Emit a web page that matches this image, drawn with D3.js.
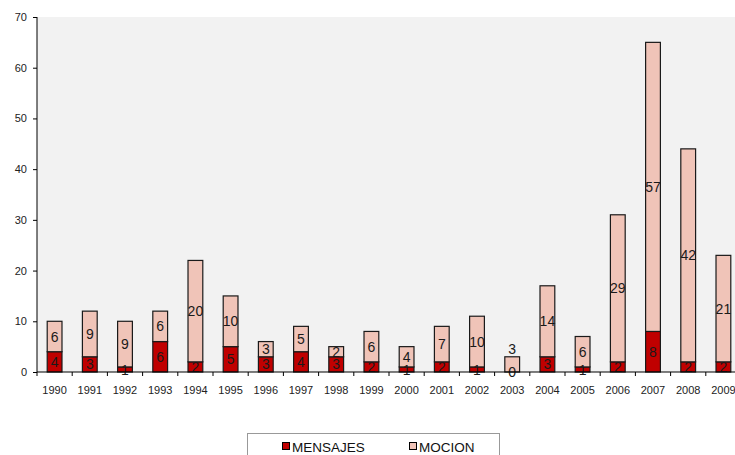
<!DOCTYPE html>
<html>
<head>
<meta charset="utf-8">
<script src="https://cdn.jsdelivr.net/npm/d3@7/dist/d3.min.js"></script>
<style>
  html, body { margin: 0; padding: 0; background: #ffffff; }
  svg { display: block; font-family: "Liberation Sans", Arial, sans-serif; }
</style>
</head>
<body>
<svg id="chart" width="735" height="455"></svg>
<script>
// Proyectos ingresados por año, según origen
const years = ["1990","1991","1992","1993","1994","1995","1996","1997","1998","1999",
               "2000","2001","2002","2003","2004","2005","2006","2007","2008","2009"];
const mensajes = [4, 3, 1, 6, 2, 5, 3, 4, 3, 2, 1, 2, 1, 0, 3, 1, 2, 8, 2, 2];
const mocion   = [6, 9, 9, 6, 20, 10, 3, 5, 2, 6, 4, 7, 10, 3, 14, 6, 29, 57, 42, 21];
const yTicks   = [0, 10, 20, 30, 40, 50, 60, 70];
const seriesNames = ["MENSAJES", "MOCION"];
const seriesColors = ["#c00000", "#f0c4b8"];

const svg = d3.select("#chart");
const margin = { left: 37, top: 17, bottom: 83 };
const plotW = 704;             // plot runs past the right edge of the window
const plotH = 455 - margin.top - margin.bottom;

const rows = years.map((y, i) => ({ year: y, MENSAJES: mensajes[i], MOCION: mocion[i] }));
const stacked = d3.stack().keys(seriesNames)(rows);

const x = d3.scaleBand().domain(years).range([margin.left, margin.left + plotW]);
const y = d3.scaleLinear().domain([0, 70]).range([margin.top + plotH, margin.top]);
const barW = x.bandwidth() * 0.42;

// plot area background
svg.append("rect")
  .attr("x", margin.left).attr("y", y(70))
  .attr("width", plotW).attr("height", y(0) - y(70))
  .attr("fill", "#f2f2f2");

// bars
const layers = svg.append("g").selectAll("g")
  .data(stacked).join("g")
  .attr("fill", (d, i) => seriesColors[i]);

layers.selectAll("rect")
  .data(d => d.map(s => ({ s, key: d.key })))
  .join("rect")
  .attr("x", d => x(d.s.data.year) + (x.bandwidth() - barW) / 2)
  .attr("y", d => y(d.s[1]))
  .attr("width", barW)
  .attr("height", d => y(d.s[0]) - y(d.s[1]))
  .attr("stroke", "#1a1a1a")
  .attr("stroke-width", 1.2);

// value labels centred in each segment; a segment sitting on an empty
// one gets its label lifted above the bar so the two do not collide
const labels = svg.append("g")
  .attr("font-size", 14)
  .attr("fill", "#1a1a1a")
  .attr("text-anchor", "middle");
stacked.forEach((layer, li) => {
  layer.forEach((s, i) => {
    const below = li > 0 ? stacked[li - 1][i] : null;
    const lifted = below && (below[1] - below[0]) === 0;
    const cy = lifted ? y(s[1]) - 8 : (y(s[0]) + y(s[1])) / 2;
    labels.append("text")
      .attr("x", x(s.data.year) + x.bandwidth() / 2)
      .attr("y", cy)
      .attr("dy", "0.36em")
      .text(s.data[layer.key]);
  });
});

// y axis
const yAxis = svg.append("g")
  .attr("transform", `translate(${margin.left},0)`)
  .call(d3.axisLeft(y).tickValues(yTicks).tickSize(4).tickPadding(6));
yAxis.select(".domain").attr("stroke", "#000").attr("d", `M0,${y(0)}V${y(70)}`);
yAxis.selectAll(".tick line").attr("stroke", "#000");
yAxis.selectAll(".tick text").attr("font-size", 11).attr("fill", "#222")
  .attr("font-family", "'Liberation Sans', Arial, sans-serif");

// x axis: baseline with ticks between categories
const xAxisG = svg.append("g");
xAxisG.append("line")
  .attr("x1", margin.left).attr("x2", margin.left + plotW)
  .attr("y1", y(0)).attr("y2", y(0))
  .attr("stroke", "#000");
xAxisG.selectAll("line.sep")
  .data(years.concat(["end"]))
  .join("line")
  .attr("class", "sep")
  .attr("x1", (d, i) => margin.left + i * x.step())
  .attr("x2", (d, i) => margin.left + i * x.step())
  .attr("y1", y(0)).attr("y2", y(0) + 4)
  .attr("stroke", "#000");
xAxisG.selectAll("text")
  .data(years).join("text")
  .attr("x", d => x(d) + x.bandwidth() / 2)
  .attr("y", y(0) + 22)
  .attr("text-anchor", "middle")
  .attr("font-size", 11)
  .attr("fill", "#222")
  .text(d => d);

// legend
const legend = svg.append("g");
legend.append("rect")
  .attr("x", 247.5).attr("y", 433.5)
  .attr("width", 252).attr("height", 30)
  .attr("fill", "#fff").attr("stroke", "#999");
const legendX = [282, 409];
seriesNames.forEach((name, i) => {
  legend.append("rect")
    .attr("x", legendX[i] + 0.5).attr("y", 442.5)
    .attr("width", 7).attr("height", 7)
    .attr("fill", seriesColors[i]).attr("stroke", "#000");
  legend.append("text")
    .attr("x", legendX[i] + 10).attr("y", 451.5)
    .attr("font-size", 13.5).attr("fill", "#111")
    .text(name);
});
</script>
</body>
</html>
